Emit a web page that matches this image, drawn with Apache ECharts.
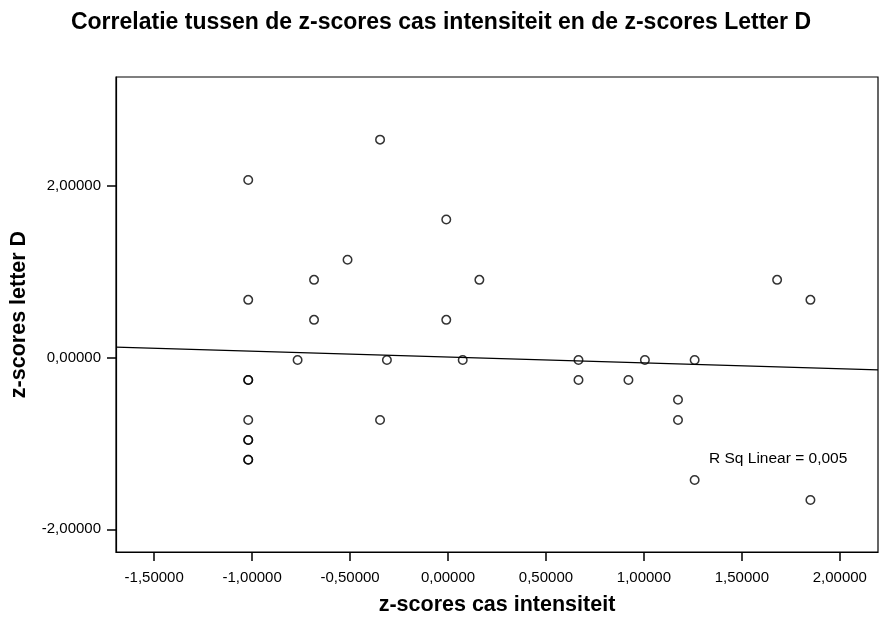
<!DOCTYPE html>
<html>
<head>
<meta charset="utf-8">
<script src="https://cdn.jsdelivr.net/npm/echarts@6/dist/echarts.min.js"></script>
<style>html,body{margin:0;padding:0;background:#fff}#c{width:882px;height:618px}</style>
</head>
<body>
<div id="c"></div>
<script>
// x: z-scores cas intensiteit, y: z-scores letter D
var xValues = [-0.347, -1.02, -0.009, -0.513, -0.684, 0.160, -1.02, -0.684, -0.009, -0.768, -0.312, 0.075,
               -1.02, -1.02, -1.02, -1.02, -0.347, -1.02, -1.02, -1.02,
               1.68, 1.85, 0.666, 1.005, 1.259, 0.666, 0.921, 1.174, 1.174, 1.259, 1.85];
var yValues = [2.54, 2.07, 1.61, 1.14, 0.906, 0.906, 0.673, 0.44, 0.44, -0.027, -0.027, -0.027,
               -0.26, -0.26, -0.727, -0.96, -0.727, -0.96, -1.19, -1.19,
               0.906, 0.673, -0.027, -0.027, -0.027, -0.26, -0.26, -0.49, -0.727, -1.426, -1.66];
var xTicks = [-1.5, -1.0, -0.5, 0.0, 0.5, 1.0, 1.5, 2.0];
var yTicks = [-2.0, 0.0, 2.0];
var fitSlope = -0.068;
var fitIntercept = 0.006;
var rSqText = 'R Sq Linear = 0,005';

var xMin = -1.695, xMax = 2.195, yMin = -2.265, yMax = 3.27;

var points = xValues.map(function (x, i) { return [x, yValues[i]]; });
var fitLine = [[xMin, fitIntercept + fitSlope * xMin], [xMax, fitIntercept + fitSlope * xMax]];

function fmt(v) { return v.toFixed(5).replace('.', ','); }
var FONT = 'Liberation Sans, Arial, sans-serif';

var chart = echarts.init(document.getElementById('c'));
chart.setOption({
  animation: false,
  backgroundColor: '#ffffff',
  title: {
    text: 'Correlatie tussen de z-scores cas intensiteit en de z-scores Letter D',
    left: 'center', top: 6,
    textStyle: { fontFamily: FONT, fontSize: 23, fontWeight: 'bold', color: '#000' }
  },
  grid: { left: 116, right: 4, top: 77, bottom: 66, containLabel: false, outerBoundsMode: 'none',
          show: true, borderColor: '#000', borderWidth: 1.2, backgroundColor: '#fff' },
  xAxis: {
    type: 'value', min: xMin, max: xMax,
    name: 'z-scores cas intensiteit', nameLocation: 'middle', nameGap: 42,
    nameTextStyle: { fontFamily: FONT, fontSize: 21.5, fontWeight: 'bold', color: '#000' },
    axisLine: { show: true, onZero: false, lineStyle: { color: '#000', width: 1.2 } },
    axisTick: { show: true, length: 9, customValues: xTicks, lineStyle: { color: '#000', width: 1.5 } },
    axisLabel: { customValues: xTicks, formatter: fmt, margin: 18, fontFamily: FONT, fontSize: 15, color: '#000' },
    splitLine: { show: false }
  },
  yAxis: {
    type: 'value', min: yMin, max: yMax,
    name: 'z-scores letter D', nameLocation: 'middle', nameGap: 86,
    nameTextStyle: { fontFamily: FONT, fontSize: 21.5, fontWeight: 'bold', color: '#000' },
    axisLine: { show: true, onZero: false, lineStyle: { color: '#000', width: 1.2 } },
    axisTick: { show: true, length: 9, customValues: yTicks, lineStyle: { color: '#000', width: 1.5 } },
    axisLabel: { customValues: yTicks, formatter: fmt, margin: 15, fontFamily: FONT, fontSize: 15, color: '#000' },
    splitLine: { show: false }
  },
  series: [
    {
      type: 'line', data: fitLine, showSymbol: false, symbol: 'none', silent: true,
      lineStyle: { color: '#000', width: 1.3 }, z: 2
    },
    {
      type: 'scatter', data: points, symbol: 'circle', symbolSize: 8.5,
      itemStyle: { color: 'rgba(255,255,255,0)', borderColor: '#000', borderWidth: 1.5 }, z: 3
    }
  ],
  graphic: [{
    type: 'text', left: 709, top: 451,
    style: { text: rSqText, font: '15.5px "Liberation Sans", Arial, sans-serif', fill: '#000' }
  }]
});
</script>
</body>
</html>
